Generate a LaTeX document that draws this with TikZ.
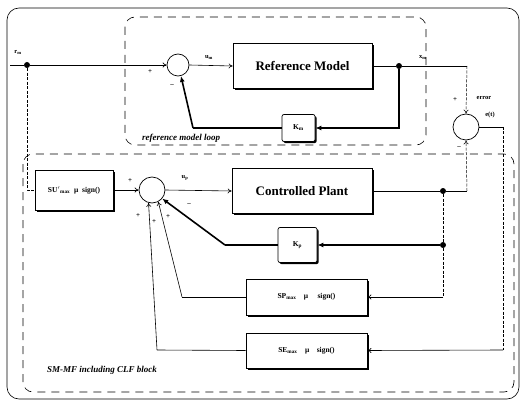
\documentclass[tikz,border=0pt]{standalone}
\usepackage{fontspec}
\setmainfont{Liberation Serif}
\usetikzlibrary{arrows.meta,shadows,calc}
\newcommand{\sbs}[1]{\textsubscript{#1}}
\begin{document}
\begin{tikzpicture}[x=1pt,y=-1pt,
  blk/.style={draw, line width=0.7pt, fill=white, inner sep=0pt,
    drop shadow={shadow xshift=1.6pt, shadow yshift=-1.6pt, opacity=1, fill=black}},
  sumc/.style={draw, circle, line width=0.7pt, fill=white, inner sep=0pt},
  dot/.style={circle, fill=black, inner sep=0pt, minimum size=6pt},
  ln/.style={line width=0.6pt},
  arr/.style={line width=0.6pt, -{To[length=4pt,width=5pt]}},
  vline/.style={line width=0.5pt, dash pattern=on 3pt off 1.5pt},
  varr/.style={vline, -{To[length=4pt,width=5pt]}},
  fb/.style={line width=1.6pt},
  fbarr/.style={line width=1.6pt, -{Latex[length=6pt,width=5pt]}},
  region/.style={dash pattern=on 8pt off 6pt, line width=0.6pt, rounded corners=10pt},
  lbl/.style={font=\fontsize{6.5}{7}\selectfont\bfseries, inner sep=0.5pt},
  sgn/.style={font=\fontsize{7}{7}\selectfont\bfseries, inner sep=0pt},
  captxt/.style={font=\fontsize{9}{10}\selectfont\bfseries\itshape, inner sep=0pt},
  big/.style={font=\fontsize{13}{15}\selectfont\bfseries},
  sm/.style={font=\fontsize{7.5}{8}\selectfont\bfseries}
]
\useasboundingbox (0,0) rectangle (522,401);
\fill[white] (0,0) rectangle (522,401);

% frames
\draw[line width=0.6pt, rounded corners=12pt] (7,8) rectangle (519,399);
\draw[region] (125,17) rectangle (426,145);
\draw[region] (23,154) rectangle (514,392);

% blocks
\node[blk, big, minimum width=139pt, minimum height=45pt] (rm) at (302.5,66) {Reference Model};
\node[blk, big, minimum width=140pt, minimum height=45pt] (pl) at (302,191) {Controlled Plant};
\node[blk, sm, minimum width=33pt, minimum height=27pt, rounded corners=2pt] (km) at (298.5,128) {K\sbs{m}};
\node[blk, sm, minimum width=39pt, minimum height=35pt, rounded corners=2pt] (kp) at (297.5,245) {K\sbs{p}};
\node[blk, sm, minimum width=78pt, minimum height=40pt] (su) at (74,190) {SU$'$\sbs{max}\ \ μ\ \ sign()};
\node[blk, sm, minimum width=121pt, minimum height=36pt] (sp) at (306.5,297) {SP\sbs{max}\quad μ\quad\ sign()};
\node[blk, sm, minimum width=121pt, minimum height=35pt] (se) at (306.5,350.5) {SE\sbs{max}\quad μ\quad sign()};

% summing junctions
\node[sumc, minimum size=22pt] (s1) at (178,65) {};
\node[sumc, minimum size=26pt] (s2) at (466,127) {};
\node[sumc, minimum size=26pt] (s3) at (152,190) {};

% junction dots and corner points
\coordinate (rin) at (10,65);
\node[dot] (d0) at (27,65) {};
\node[dot] (d1) at (399,66) {};
\node[dot] (d2) at (443,191) {};
\node[dot] (d3) at (443,245) {};
\coordinate (c1) at (467,66);
\coordinate (c2) at (467,191);
\coordinate (c3) at (443,297);
\coordinate (c4) at (503,127);
\coordinate (c5) at (503,350);
\coordinate (k1) at (193,128);
\coordinate (k2) at (225,245);
\coordinate (p1) at (182,297);
\coordinate (e1) at (157,350);

% reference model loop
\draw[ln] (rin) -- (d0);
\draw[arr] (d0) -- (s1.west);
\draw[arr] (s1.east) -- (rm.west);
\draw[ln] (rm.east) -- (d1);
\draw[ln] (d1) -- (c1);
\draw[varr] (c1) -- (s2.north);
\draw[fb] (d1) |- ($(km.east)+(4,0)$);
\draw[fbarr] ($(km.east)+(5,0)$) -- (km.east);
\draw[fb] (km.west) -- (k1);
\draw[fbarr] (k1) -- (s1.-75);

% plant loop
\draw[vline] (d0) |- (su.west);
\draw[arr] (su.east) -- (s3.west);
\draw[arr] (s3.east) -- (pl.west);
\draw[ln] (pl.east) -- (d2);
\draw[ln] (d2) -- (c2);
\draw[varr] (c2) -- (s2.south);
\draw[vline] (d2) -- (d3);
\draw[fb] (d3) -- ($(kp.east)+(5,0)$);
\draw[fbarr] ($(kp.east)+(6,0)$) -- (kp.east);
\draw[fb] (kp.west) -- (k2);
\draw[fbarr] (k2) -- (s3.-40);
\draw[vline] (d3) -- (c3);
\draw[arr] (c3) -- (sp.east);
\draw[ln] (s2.east) -- (c4);
\draw[vline] (c4) -- (c5);
\draw[arr] (c5) -- (se.east);
\draw[ln] (sp.west) -- (p1);
\draw[arr] (p1) -- (s3.-62);
\draw[ln] (se.west) -- (e1);
\draw[arr] (e1) -- (s3.-105);

% labels
\node[lbl] (lrm) at (18,52) {r\sbs{m}};
\node[sgn] (ls1p) at (150,72) {+};
\node[lbl] (lum) at (209,58) {u\sbs{m}};
\node[sgn] (ls1m) at (172,86) {–};
\node[lbl] (lxm) at (423,58) {x\sbs{m}};
\node[sgn] (ls2p) at (455,100) {+};
\node[sgn] (ls2m) at (459,148) {–};
\node[lbl] (lerr) at (484,98) {error};
\node[lbl] (let) at (490,115) {e(t)};
\node[lbl] (lup) at (185,178) {u\sbs{p}};
\node[sgn] (ls3m) at (189,205) {–};
\node[sgn] (ls3a) at (130,181) {+};
\node[sgn] (ls3b) at (138,216) {+};
\node[sgn] (ls3c) at (154,222) {+};
\node[sgn] (ls3d) at (168,217) {+};
\node[captxt, anchor=west] (lrml) at (142,138) {reference model loop};
\node[captxt, anchor=west] (lsm) at (47,370) {SM-MF including CLF block};
\end{tikzpicture}
\end{document}
